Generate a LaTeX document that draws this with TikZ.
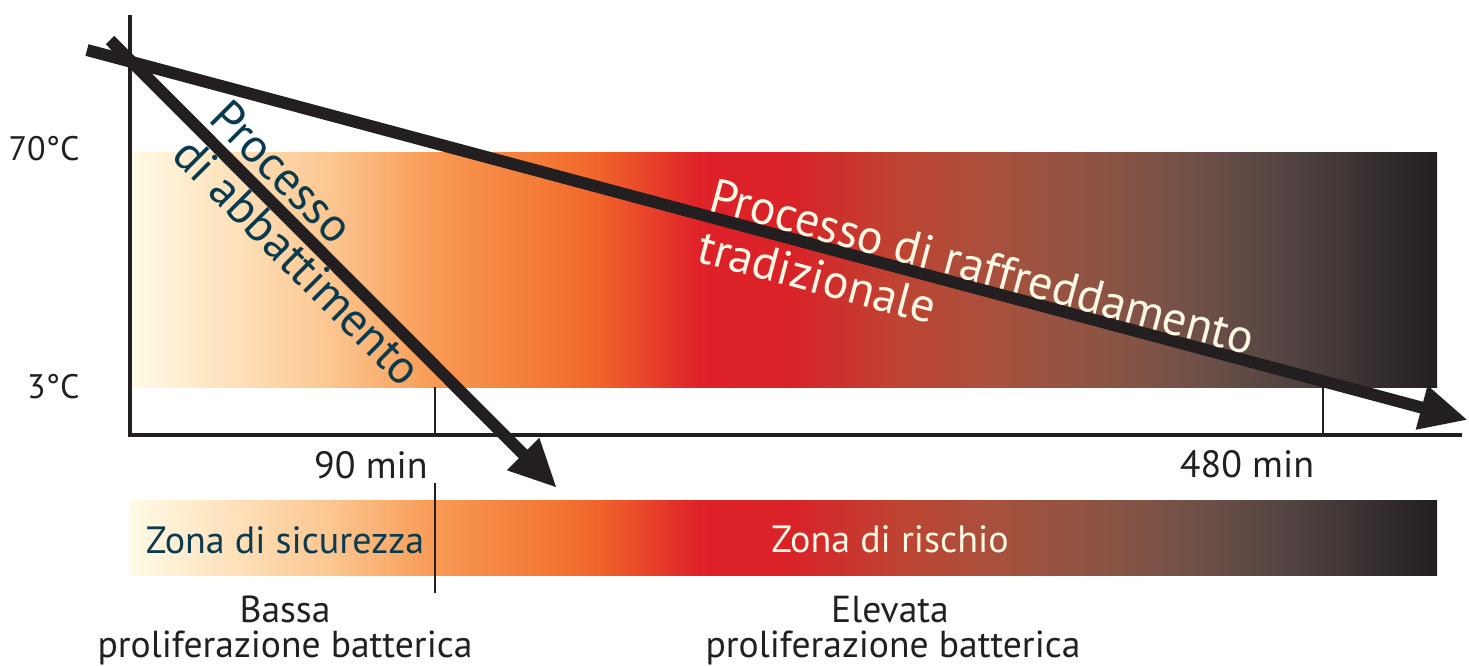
\documentclass[tikz,border=0pt]{standalone}
\usepackage{fontspec}
\setmainfont{PT Sans}
\usetikzlibrary{arrows.meta}
\definecolor{ink}{HTML}{231F20}
\definecolor{teal}{RGB}{10,58,78}
\definecolor{cream}{HTML}{FFF8E5}
\definecolor{g0}{HTML}{FFFAE6}
\definecolor{g1}{HTML}{FEE2BC}
\definecolor{g2}{HTML}{FCC690}
\definecolor{g3}{HTML}{F89A55}
\definecolor{g4}{HTML}{F37432}
\definecolor{g5}{HTML}{F0622A}
\definecolor{g6}{HTML}{DF2129}
\definecolor{g7}{HTML}{D92228}
\definecolor{g8}{HTML}{BE4432}
\definecolor{g9}{HTML}{A6513E}
\definecolor{g10}{HTML}{8A5444}
\definecolor{g11}{HTML}{6E5048}
\definecolor{g12}{HTML}{4E4240}
\definecolor{g13}{HTML}{231F20}
\pgfdeclarehorizontalshading{heat}{100bp}{color(0bp)=(g0); color(25bp)=(g0); color(28.8bp)=(g1); color(32.65bp)=(g2); color(36.65bp)=(g3); color(41.45bp)=(g4); color(43bp)=(g5); color(46.8bp)=(g6); color(50.25bp)=(g7); color(54.45bp)=(g8); color(58.3bp)=(g9); color(62.5bp)=(g10); color(65.95bp)=(g11); color(69.75bp)=(g12); color(75bp)=(g13); color(100bp)=(g13)}
\begin{document}
\begin{tikzpicture}[x=0.5pt,y=-0.5pt,
  axisline/.style={draw=ink, line width=1.6pt},
  tickline/.style={draw=ink, line width=0.6pt},
  proc/.style={draw=ink, line width=6pt, -{Triangle[length=24pt,width=21pt]}},
  lbl/.style={text=ink, inner sep=0pt},
  rot/.style={inner sep=0pt, font=\fontsize{24}{28}\selectfont}]
\useasboundingbox (0,0) rectangle (1469,666);
% bands
\shade[shading=heat] (130,152) rectangle (1437,387);
\shade[shading=heat] (130,500) rectangle (1437,575);
% axes
\coordinate (ytop) at (130,15);
\coordinate (orig) at (130,435);
\coordinate (xend) at (1462,435);
\draw[axisline] (ytop) -- (orig) -- (xend);
% ticks
\coordinate (t90a) at (435,387);
\coordinate (t90b) at (435,435);
\coordinate (t480a) at (1323,387);
\coordinate (t480b) at (1323,435);
\coordinate (t90c) at (435,483);
\coordinate (t90d) at (435,593);
\draw[tickline] (t90a) -- (t90b);
\draw[tickline] (t480a) -- (t480b);
\draw[tickline] (t90c) -- (t90d);
% process arrows
\coordinate (fastS) at (110,40);
\coordinate (fastE) at (557,488);
\coordinate (slowS) at (87,50);
\coordinate (slowE) at (1468,420);
\draw[proc] (fastS) -- (fastE);
\draw[proc] (slowS) -- (slowE);
% axis labels
\node[lbl, anchor=base east, font=\fontsize{17}{20}\selectfont] (t70) at (80,160) {70°C};
\node[lbl, anchor=base east, font=\fontsize{17}{20}\selectfont] (t3) at (80,398) {3°C};
\node[lbl, anchor=base east, font=\fontsize{19}{22}\selectfont] (m90) at (428,478) {90 min};
\node[lbl, anchor=base, font=\fontsize{19}{22}\selectfont] (m480) at (1247,477) {480 min};
% zone labels
\node[inner sep=0pt, anchor=base, text=teal, font=\fontsize{19}{22}\selectfont] (zsic) at (285,553) {Zona di sicurezza};
\node[inner sep=0pt, anchor=base, text=cream, font=\fontsize{19}{22}\selectfont] (zris) at (890,552) {Zona di rischio};
\node[lbl, anchor=base, font=\fontsize{18.8}{22}\selectfont] (bassa) at (285,622) {Bassa};
\node[lbl, anchor=base, font=\fontsize{18.8}{22}\selectfont] (prolA) at (285,657) {proliferazione batterica};
\node[lbl, anchor=base, font=\fontsize{18.8}{22}\selectfont] (elev) at (890,622) {Elevata};
\node[lbl, anchor=base, font=\fontsize{18.8}{22}\selectfont] (prolB) at (893,657) {proliferazione batterica};
% process labels
\node[rot, text=teal, anchor=base west, rotate=-45] (pabb1) at (207,120) {Processo};
\node[rot, text=teal, anchor=base west, rotate=-45] (pabb2) at (170,157) {di abbattimento};
\node[rot, text=cream, anchor=base west, rotate=-15] (praf1) at (707,210) {Processo di raffreddamento};
\node[rot, text=cream, anchor=base west, rotate=-15] (praf2) at (695,261) {tradizionale};
\end{tikzpicture}
\end{document}
